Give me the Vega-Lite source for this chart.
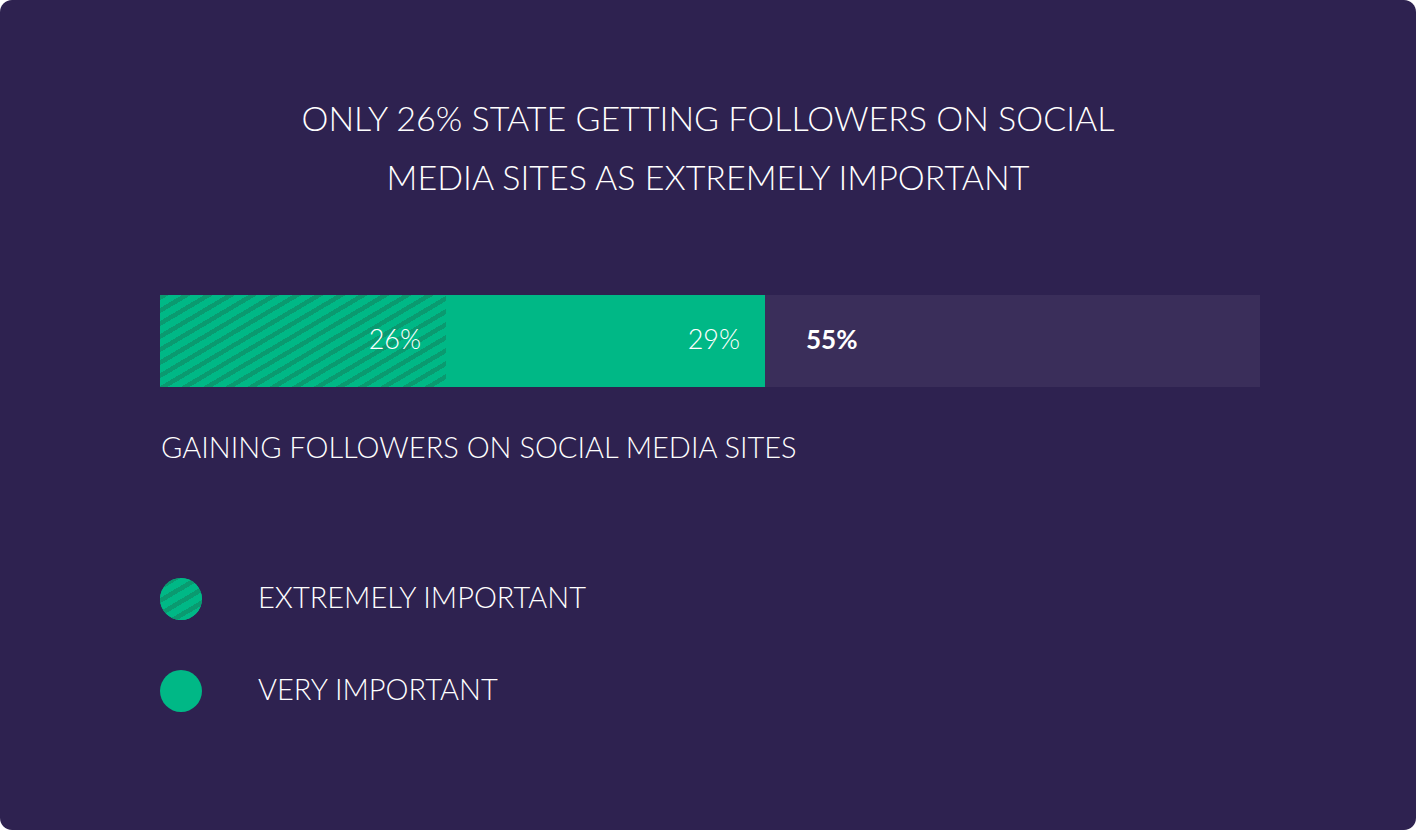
{
  "$schema": "https://vega.github.io/schema/vega-lite/v6.json",
  "width": 1416,
  "height": 830,
  "autosize": "none",
  "padding": 0,
  "background": "#ffffff",
  "title": {
    "text": ["ONLY 26% STATE GETTING FOLLOWERS ON SOCIAL", "MEDIA SITES AS EXTREMELY IMPORTANT"],
    "anchor": "middle",
    "orient": "top",
    "frame": "group",
    "baseline": "top",
    "offset": -197,
    "lineHeight": 59,
    "font": "Lato",
    "fontSize": 34,
    "fontWeight": 300,
    "color": "#ffffff"
  },
  "datasets": {
    "segments": [
      {"item": "GAINING FOLLOWERS ON SOCIAL MEDIA SITES", "level": "EXTREMELY IMPORTANT", "pct": 26},
      {"item": "GAINING FOLLOWERS ON SOCIAL MEDIA SITES", "level": "VERY IMPORTANT", "pct": 29}
    ],
    "totals": [
      {"item": "GAINING FOLLOWERS ON SOCIAL MEDIA SITES", "total": 55, "max": 100}
    ]
  },
  "layer": [
    {
      "data": {"name": "totals"},
      "mark": {"type": "bar", "color": "#3a2e5a"},
      "encoding": {
        "x": {"field": "max", "type": "quantitative", "axis": null, "scale": {"domain": [0, 100], "range": [160, 1260], "nice": false}},
        "y": {"field": "item", "type": "nominal", "axis": null, "scale": {"range": [295, 387], "paddingInner": 0, "paddingOuter": 0}}
      }
    },
    {
      "data": {"name": "segments"},
      "mark": {"type": "bar", "color": "#00b886"},
      "encoding": {
        "x": {"field": "pct", "type": "quantitative", "stack": "zero"},
        "y": {"field": "item", "type": "nominal", "axis": null, "scale": {"range": [295, 387], "paddingInner": 0, "paddingOuter": 0}},
        "detail": {"field": "level"}
      }
    },
    {
      "data": {"name": "segments"},
      "transform": [{"filter": "datum.level === 'EXTREMELY IMPORTANT'"}],
      "mark": {
        "type": "bar",
        "fill": {
          "gradient": "linear",
          "x1": 0, "y1": 0, "x2": 1.191, "y2": 0.65,
          "stops": [
            {"offset": 0, "color": "#0a9a70"}, {"offset": 0.02, "color": "#0a9a70"}, {"offset": 0.02, "color": "#00b886"}, {"offset": 0.05, "color": "#00b886"},
            {"offset": 0.05, "color": "#0a9a70"}, {"offset": 0.07, "color": "#0a9a70"}, {"offset": 0.07, "color": "#00b886"}, {"offset": 0.1, "color": "#00b886"},
            {"offset": 0.1, "color": "#0a9a70"}, {"offset": 0.12, "color": "#0a9a70"}, {"offset": 0.12, "color": "#00b886"}, {"offset": 0.15, "color": "#00b886"},
            {"offset": 0.15, "color": "#0a9a70"}, {"offset": 0.17, "color": "#0a9a70"}, {"offset": 0.17, "color": "#00b886"}, {"offset": 0.2, "color": "#00b886"},
            {"offset": 0.2, "color": "#0a9a70"}, {"offset": 0.22, "color": "#0a9a70"}, {"offset": 0.22, "color": "#00b886"}, {"offset": 0.25, "color": "#00b886"},
            {"offset": 0.25, "color": "#0a9a70"}, {"offset": 0.27, "color": "#0a9a70"}, {"offset": 0.27, "color": "#00b886"}, {"offset": 0.3, "color": "#00b886"},
            {"offset": 0.3, "color": "#0a9a70"}, {"offset": 0.32, "color": "#0a9a70"}, {"offset": 0.32, "color": "#00b886"}, {"offset": 0.35, "color": "#00b886"},
            {"offset": 0.35, "color": "#0a9a70"}, {"offset": 0.37, "color": "#0a9a70"}, {"offset": 0.37, "color": "#00b886"}, {"offset": 0.4, "color": "#00b886"},
            {"offset": 0.4, "color": "#0a9a70"}, {"offset": 0.42, "color": "#0a9a70"}, {"offset": 0.42, "color": "#00b886"}, {"offset": 0.45, "color": "#00b886"},
            {"offset": 0.45, "color": "#0a9a70"}, {"offset": 0.47, "color": "#0a9a70"}, {"offset": 0.47, "color": "#00b886"}, {"offset": 0.5, "color": "#00b886"},
            {"offset": 0.5, "color": "#0a9a70"}, {"offset": 0.52, "color": "#0a9a70"}, {"offset": 0.52, "color": "#00b886"}, {"offset": 0.55, "color": "#00b886"},
            {"offset": 0.55, "color": "#0a9a70"}, {"offset": 0.57, "color": "#0a9a70"}, {"offset": 0.57, "color": "#00b886"}, {"offset": 0.6, "color": "#00b886"},
            {"offset": 0.6, "color": "#0a9a70"}, {"offset": 0.62, "color": "#0a9a70"}, {"offset": 0.62, "color": "#00b886"}, {"offset": 0.65, "color": "#00b886"},
            {"offset": 0.65, "color": "#0a9a70"}, {"offset": 0.67, "color": "#0a9a70"}, {"offset": 0.67, "color": "#00b886"}, {"offset": 0.7, "color": "#00b886"},
            {"offset": 0.7, "color": "#0a9a70"}, {"offset": 0.72, "color": "#0a9a70"}, {"offset": 0.72, "color": "#00b886"}, {"offset": 0.75, "color": "#00b886"},
            {"offset": 0.75, "color": "#0a9a70"}, {"offset": 0.77, "color": "#0a9a70"}, {"offset": 0.77, "color": "#00b886"}, {"offset": 0.8, "color": "#00b886"},
            {"offset": 0.8, "color": "#0a9a70"}, {"offset": 0.82, "color": "#0a9a70"}, {"offset": 0.82, "color": "#00b886"}, {"offset": 0.85, "color": "#00b886"},
            {"offset": 0.85, "color": "#0a9a70"}, {"offset": 0.87, "color": "#0a9a70"}, {"offset": 0.87, "color": "#00b886"}, {"offset": 0.9, "color": "#00b886"},
            {"offset": 0.9, "color": "#0a9a70"}, {"offset": 0.92, "color": "#0a9a70"}, {"offset": 0.92, "color": "#00b886"}, {"offset": 0.95, "color": "#00b886"},
            {"offset": 0.95, "color": "#0a9a70"}, {"offset": 0.97, "color": "#0a9a70"}, {"offset": 0.97, "color": "#00b886"}, {"offset": 1, "color": "#00b886"}
          ]
        }
      },
      "encoding": {
        "x": {"field": "pct", "type": "quantitative", "stack": "zero"},
        "y": {"field": "item", "type": "nominal", "axis": null, "scale": {"range": [295, 387], "paddingInner": 0, "paddingOuter": 0}},
        "detail": {"field": "level"}
      }
    },
    {
      "data": {"name": "segments"},
      "transform": [{"calculate": "datum.pct + '%'", "as": "label"}],
      "mark": {"type": "text", "align": "right", "baseline": "middle", "dx": -25, "font": "Lato", "fontSize": 27, "fontWeight": 300, "color": "#ffffff"},
      "encoding": {
        "x": {"field": "pct", "type": "quantitative", "stack": "zero"},
        "y": {"field": "item", "type": "nominal", "axis": null, "scale": {"range": [295, 387], "paddingInner": 0, "paddingOuter": 0}},
        "detail": {"field": "level"},
        "text": {"field": "label"}
      }
    },
    {
      "data": {"name": "totals"},
      "transform": [{"calculate": "datum.total + '%'", "as": "label"}],
      "mark": {"type": "text", "align": "left", "baseline": "middle", "dx": 41, "font": "Lato", "fontSize": 26, "fontWeight": "bold", "color": "#ffffff"},
      "encoding": {
        "x": {"field": "total", "type": "quantitative"},
        "y": {"field": "item", "type": "nominal", "axis": null, "scale": {"range": [295, 387], "paddingInner": 0, "paddingOuter": 0}},
        "text": {"field": "label"}
      }
    },
    {
      "data": {"name": "totals"},
      "mark": {"type": "text", "align": "left", "baseline": "middle", "dy": 108, "dx": 1, "font": "Lato", "fontSize": 29, "fontWeight": 300, "color": "#ffffff"},
      "encoding": {
        "x": {"datum": 0, "type": "quantitative"},
        "y": {"field": "item", "type": "nominal", "axis": null, "scale": {"range": [295, 387], "paddingInner": 0, "paddingOuter": 0}},
        "text": {"field": "item"}
      }
    },
    {
      "data": {"name": "segments"},
      "mark": {"type": "point", "shape": "circle", "filled": true, "size": 1764, "opacity": 1, "strokeWidth": 0, "color": "#00b886", "xOffset": 21},
      "encoding": {
        "x": {"datum": 0, "type": "quantitative"},
        "y": {"field": "level", "type": "nominal", "axis": null, "scale": {"type": "point", "domain": ["EXTREMELY IMPORTANT", "VERY IMPORTANT"], "range": [599, 691], "padding": 0}}
      }
    },
    {
      "data": {"name": "segments"},
      "transform": [{"filter": "datum.level === 'EXTREMELY IMPORTANT'"}],
      "mark": {
        "type": "point",
        "shape": "circle",
        "filled": true,
        "size": 1764,
        "opacity": 1,
        "strokeWidth": 0,
        "xOffset": 21,
        "fill": {
          "gradient": "linear",
          "x1": 0, "y1": 0, "x2": 0.696, "y2": 1.18,
          "stops": [
            {"offset": 0, "color": "#00b886"}, {"offset": 0.1, "color": "#00b886"}, {"offset": 0.1, "color": "#0a9a70"}, {"offset": 0.18, "color": "#0a9a70"},
            {"offset": 0.18, "color": "#00b886"}, {"offset": 0.3, "color": "#00b886"}, {"offset": 0.3, "color": "#0a9a70"}, {"offset": 0.38, "color": "#0a9a70"},
            {"offset": 0.38, "color": "#00b886"}, {"offset": 0.5, "color": "#00b886"}, {"offset": 0.5, "color": "#0a9a70"}, {"offset": 0.58, "color": "#0a9a70"},
            {"offset": 0.58, "color": "#00b886"}, {"offset": 0.7, "color": "#00b886"}, {"offset": 0.7, "color": "#0a9a70"}, {"offset": 0.78, "color": "#0a9a70"},
            {"offset": 0.78, "color": "#00b886"}, {"offset": 0.9, "color": "#00b886"}, {"offset": 0.9, "color": "#0a9a70"}, {"offset": 0.98, "color": "#0a9a70"},
            {"offset": 0.98, "color": "#00b886"}, {"offset": 1, "color": "#00b886"}
          ]
        }
      },
      "encoding": {
        "x": {"datum": 0, "type": "quantitative"},
        "y": {"field": "level", "type": "nominal", "axis": null, "scale": {"type": "point", "domain": ["EXTREMELY IMPORTANT", "VERY IMPORTANT"], "range": [599, 691], "padding": 0}}
      }
    },
    {
      "data": {"name": "segments"},
      "mark": {"type": "text", "align": "left", "baseline": "middle", "dx": 98, "font": "Lato", "fontSize": 29, "fontWeight": 300, "color": "#ffffff"},
      "encoding": {
        "x": {"datum": 0, "type": "quantitative"},
        "y": {"field": "level", "type": "nominal", "axis": null, "scale": {"type": "point", "domain": ["EXTREMELY IMPORTANT", "VERY IMPORTANT"], "range": [599, 691], "padding": 0}},
        "text": {"field": "level"}
      }
    }
  ],
  "resolve": {"scale": {"y": "independent"}},
  "config": {
    "view": {"fill": "#2e2250", "stroke": null, "cornerRadius": 12}
  }
}
